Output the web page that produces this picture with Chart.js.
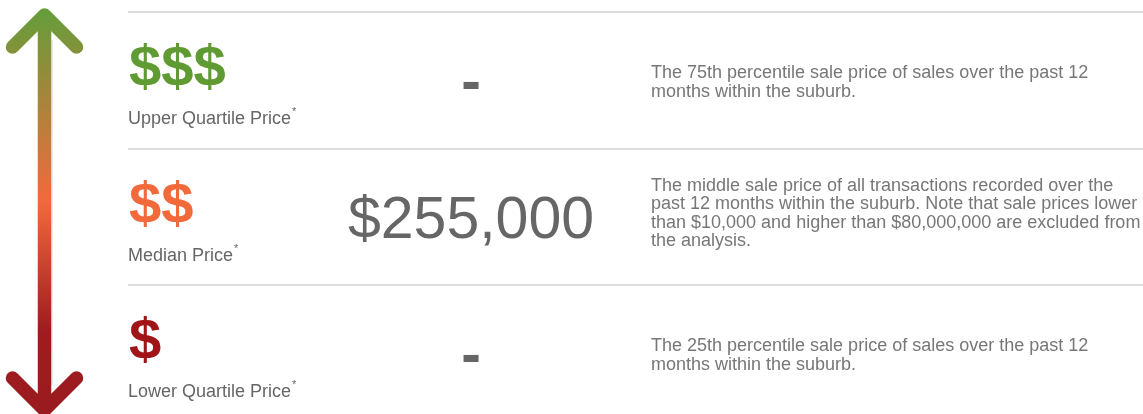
<!DOCTYPE html>
<html>
<head>
<meta charset="utf-8">
<script src="https://cdn.jsdelivr.net/npm/chart.js@4/dist/chart.umd.min.js"></script>
<style>
  html, body { margin: 0; padding: 0; background: #fff; }
  #wrap { width: 1143px; height: 414px; position: relative; }
</style>
</head>
<body>
<div id="wrap"><canvas id="priceChart"></canvas></div>
<script>
// rows, top to bottom
const rowNames = ['Upper Quartile Price', 'Median Price', 'Lower Quartile Price'];
const rowSymbols = ['$$$', '$$', '$'];
const rowValues = ['-', '$255,000', '-'];
const rowColors = ['#5f9b32', '#f26a3b', '#a11519'];
const rowDescriptions = [
    ['The 75th percentile sale price of sales over the past 12',
     'months within the suburb.'],
    ['The middle sale price of all transactions recorded over the',
     'past 12 months within the suburb. Note that sale prices lower',
     'than $10,000 and higher than $80,000,000 are excluded from',
     'the analysis.'],
    ['The 25th percentile sale price of sales over the past 12',
     'months within the suburb.']
];

const FONT = '"Liberation Sans", Arial, Helvetica, sans-serif';

// arrow on the left, green at the top to red at the bottom
const arrowPlugin = {
    id: 'arrow',
    afterDraw(chart) {
        const ctx = chart.ctx;
        const x = 44.5, top = 15, bottom = 410, head = 32;
        const grad = ctx.createLinearGradient(0, top, 0, bottom);
        grad.addColorStop(0, '#689c3a');
        grad.addColorStop(0.47, '#f26a3b');
        grad.addColorStop(0.8, '#9e1c1f');
        grad.addColorStop(1, '#9a1b1f');
        ctx.save();
        // faint edge on the shaft
        ctx.strokeStyle = '#e0d6d4';
        ctx.lineWidth = 1;
        ctx.beginPath();
        ctx.moveTo(x + 7.5, top + 25);
        ctx.lineTo(x + 7.5, bottom - 25);
        ctx.stroke();

        ctx.strokeStyle = grad;
        ctx.lineWidth = 13.5;
        ctx.lineCap = 'round';
        ctx.lineJoin = 'round';
        ctx.beginPath();
        ctx.moveTo(x, top + 4);
        ctx.lineTo(x, bottom - 4);
        ctx.stroke();
        ctx.beginPath();
        ctx.moveTo(x - head, top + head);
        ctx.lineTo(x, top);
        ctx.lineTo(x + head, top + head);
        ctx.stroke();
        ctx.beginPath();
        ctx.moveTo(x - head, bottom - head);
        ctx.lineTo(x, bottom);
        ctx.lineTo(x + head, bottom - head);
        ctx.stroke();
        ctx.restore();
    }
};

// texts of each row, placed from the y scale
const rowTextPlugin = {
    id: 'rowText',
    afterDraw(chart) {
        const ctx = chart.ctx;
        const yScale = chart.scales.y;
        const left = chart.chartArea.left;
        ctx.save();
        ctx.textBaseline = 'alphabetic';
        rowNames.forEach((name, i) => {
            const cy = yScale.getPixelForValue(i + 0.5);

            ctx.fillStyle = rowColors[i];
            ctx.textAlign = 'left';
            ctx.font = 'bold 58px ' + FONT;
            ctx.fillText(rowSymbols[i], left + 1, cy + 6);

            ctx.fillStyle = '#666';
            ctx.font = '18px ' + FONT;
            ctx.fillText(name, left, cy + 44);
            const w = ctx.measureText(name).width;
            ctx.font = '11px ' + FONT;
            ctx.fillText('*', left + w + 1, cy + 35);

            ctx.fillStyle = '#666';
            ctx.textAlign = 'center';
            // the empty value is a heavier dash
            ctx.font = (rowValues[i] === '-' ? 'bold ' : '') + '59px ' + FONT;
            ctx.fillText(rowValues[i], 471, cy + 21);

            ctx.fillStyle = '#777';
            ctx.textAlign = 'left';
            ctx.font = '18px ' + FONT;
            const lines = rowDescriptions[i];
            const first = cy - 2 - (lines.length - 2) * 12;
            lines.forEach((line, j) => {
                ctx.fillText(line, 651, first + j * 18.4);
            });
        });
        ctx.restore();
    }
};

new Chart(document.getElementById('priceChart'), {
    type: 'bar',
    data: { datasets: [] },
    options: {
        responsive: true,
        maintainAspectRatio: false,
        animation: false,
        layout: { padding: { left: 128, top: 12, right: 0, bottom: 0 } },
        plugins: { legend: { display: false }, tooltip: { enabled: false } },
        scales: {
            x: { type: 'linear', display: false, min: 0, max: 1 },
            y: {
                type: 'linear',
                reverse: true,
                min: 0,
                max: 2.945,
                afterBuildTicks: s => { s.ticks = rowNames.map((_, i) => ({ value: i })); },
                afterFit: s => { s.width = 0; },
                ticks: { display: false },
                grid: { color: '#dddddd', lineWidth: 2, drawTicks: false },
                border: { display: false }
            }
        }
    },
    plugins: [arrowPlugin, rowTextPlugin]
});
</script>
</body>
</html>
